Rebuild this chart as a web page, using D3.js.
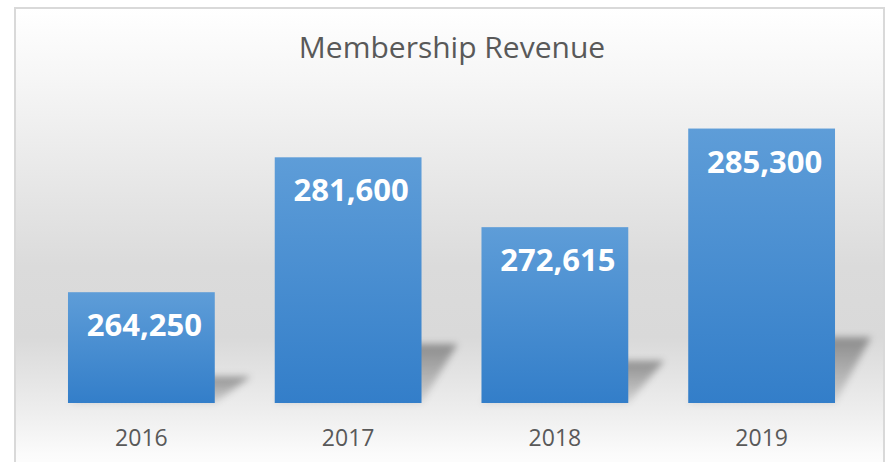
<!DOCTYPE html>
<html>
<head>
<meta charset="utf-8">
<script src="https://cdn.jsdelivr.net/npm/d3@7"></script>
<style>
  html, body { margin: 0; padding: 0; background: #fff; }
  svg { display: block; }
</style>
</head>
<body>
<div class="chart"></div>
<script>
// 資料
const years = ['2016', '2017', '2018', '2019'];
const revenue = [264250, 281600, 272615, 285300];
const yDomain = [250000, 290000];
const title = 'Membership Revenue';

const width = 891;
const height = 462;

const svg = d3
  .select('.chart')
  .append('svg')
  .attr('width', width)
  .attr('height', height);

const defs = svg.append('defs');

// 背景漸層
const bg = defs
  .append('linearGradient')
  .attr('id', 'bg')
  .attr('x1', 0).attr('y1', 0)
  .attr('x2', 0).attr('y2', 1);
[
  [0, '#ffffff'],
  [0.15, '#f6f6f6'],
  [0.55, '#dbdbdb'],
  [0.7, '#d9d9d9'],
  [0.86, '#eeeeee'],
  [0.95, '#fbfbfb'],
  [1, '#ffffff'],
].forEach(([o, c]) => bg.append('stop').attr('offset', o).attr('stop-color', c));

// 長條漸層
const barGrad = defs
  .append('linearGradient')
  .attr('id', 'barGrad')
  .attr('x1', 0).attr('y1', 0)
  .attr('x2', 0).attr('y2', 1);
barGrad.append('stop').attr('offset', 0).attr('stop-color', '#5e9dd8');
barGrad.append('stop').attr('offset', 1).attr('stop-color', '#337ec9');

// 陰影
const shGrad = defs
  .append('linearGradient')
  .attr('id', 'shGrad')
  .attr('x1', 0).attr('y1', 0)
  .attr('x2', 0).attr('y2', 1);
shGrad.append('stop').attr('offset', 0).attr('stop-color', '#000').attr('stop-opacity', 0.36);
shGrad.append('stop').attr('offset', 1).attr('stop-color', '#000').attr('stop-opacity', 0.1);

defs
  .append('filter')
  .attr('id', 'blur')
  .attr('x', '-20%').attr('y', '-20%')
  .attr('width', '140%').attr('height', '140%')
  .append('feGaussianBlur')
  .attr('stdDeviation', 3.5);

// 外框
svg
  .append('rect')
  .attr('x', 15)
  .attr('y', 8)
  .attr('width', 869)
  .attr('height', 470)
  .attr('fill', 'url(#bg)')
  .attr('stroke', '#d9d9d9')
  .attr('stroke-width', 2);

// 標題
svg
  .append('text')
  .attr('x', 452)
  .attr('y', 58)
  .attr('text-anchor', 'middle')
  .style('font-family', '"Open Sans", sans-serif')
  .style('font-size', '30px')
  .style('fill', '#595959')
  .text(title);

const x = d3
  .scaleBand()
  .domain(years)
  .range([38, 865])
  .paddingInner(0.29)
  .paddingOuter(0.145);

const y = d3.scaleLinear().domain(yDomain).range([403, 92]);

const data = years.map((yr, i) => ({ year: yr, value: revenue[i] }));

// 透視陰影
svg
  .append('g')
  .attr('filter', 'url(#blur)')
  .selectAll('path')
  .data(data)
  .join('path')
  .attr('d', (d) => {
    const x0 = x(d.year);
    const x1 = x0 + x.bandwidth();
    const b = y(yDomain[0]);
    const h = b - y(d.value);
    const top = b - h * 0.24;
    const dx = 36;
    return `M${x0},${b}L${x1},${b}L${x1 + dx},${top}L${x0 + dx},${top}Z`;
  })
  .attr('fill', 'url(#shGrad)');

// 長條
svg
  .append('g')
  .selectAll('rect')
  .data(data)
  .join('rect')
  .attr('x', (d) => x(d.year))
  .attr('y', (d) => y(d.value))
  .attr('width', x.bandwidth())
  .attr('height', (d) => y(yDomain[0]) - y(d.value))
  .attr('fill', 'url(#barGrad)');

// 數值標籤
svg
  .append('g')
  .selectAll('text')
  .data(data)
  .join('text')
  .attr('x', (d) => x(d.year) + x.bandwidth() / 2 + 3)
  .attr('y', (d) => y(d.value) + 44)
  .attr('text-anchor', 'middle')
  .style('font-family', '"Open Sans", sans-serif')
  .style('font-weight', 700)
  .style('font-size', '31px')
  .style('fill', '#ffffff')
  .text((d) => d3.format(',')(d.value));

// X 軸
const xAxis = svg
  .append('g')
  .attr('transform', 'translate(0,403)')
  .call(d3.axisBottom(x).tickSize(0).tickPadding(0));
xAxis.select('.domain').remove();
xAxis
  .selectAll('text')
  .attr('dy', 0)
  .attr('y', 43)
  .style('font-family', '"Open Sans", sans-serif')
  .style('font-size', '23px')
  .style('fill', '#595959');
</script>
</body>
</html>
